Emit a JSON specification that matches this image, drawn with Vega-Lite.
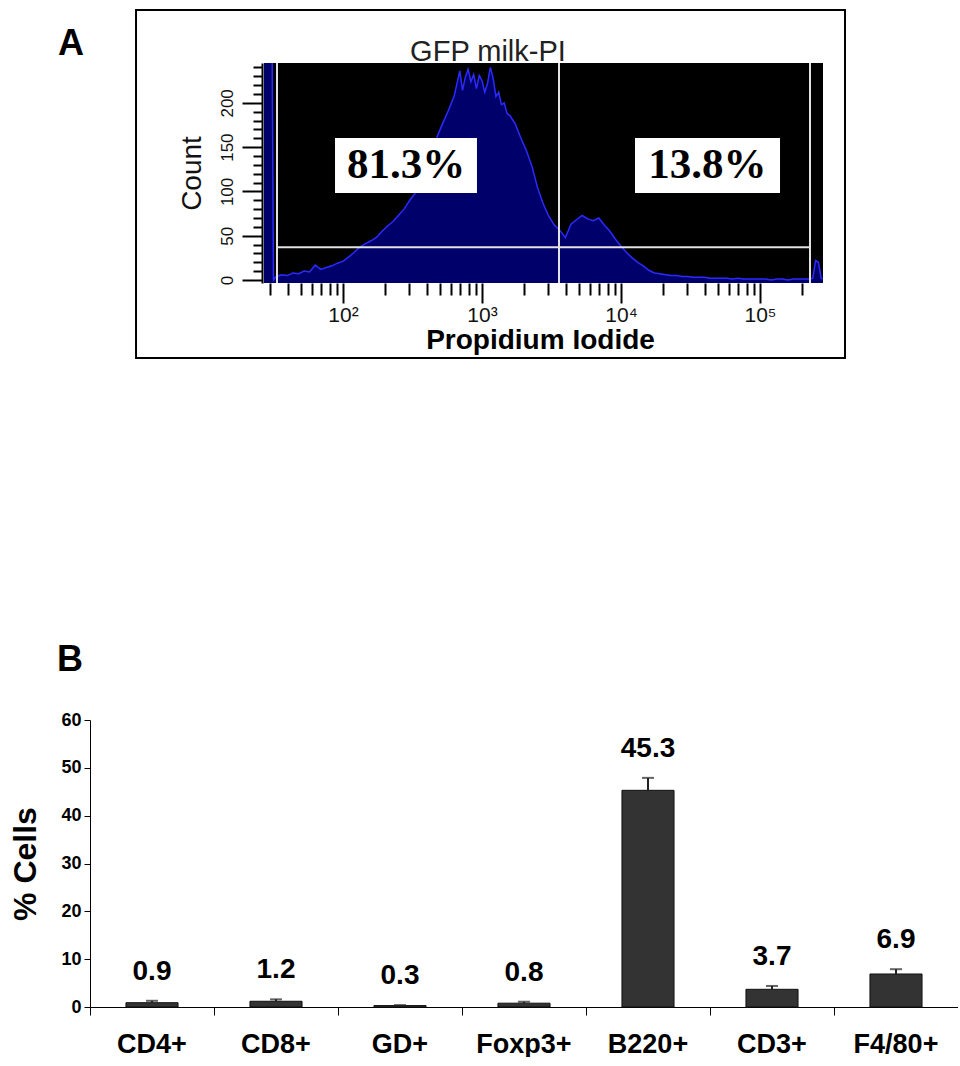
{
  "$schema": "https://vega.github.io/schema/vega-lite/v6.json",
  "padding": {"left": 9, "top": 9, "right": 0, "bottom": 0},
  "background": "white",
  "spacing": 282,
  "config": {"view": {"stroke": null}, "font": "Liberation Sans", "axis": {"grid": false}},
  "vconcat": [
    {
      "width": 733,
      "height": 220,
      "resolve": {"axis": {"x": "independent", "y": "independent"}},
      "layer": [
        {
          "data": {"values": [{}]},
          "mark": {"type": "rect", "fill": "black"},
          "encoding": {
            "x": {
              "datum": 27, "type": "quantitative", "scale": {"type": "log"},
              "axis": {
                "orient": "bottom",
                "values": [100, 1000, 10000, 100000], "tickCount": 100,
                "labelExpr": "datum.value == 100 ? '10²' : datum.value == 1000 ? '10³' : datum.value == 10000 ? '10⁴' : '10⁵'",
                "tickSize": 20, "tickWidth": 2, "tickColor": "black", "domain": false,
                "labelFontSize": 21, "labelColor": "#111", "labelPadding": 1, "labelFlush": false, "labelOverlap": false, "labelBaseline": "top",
                "title": "Propidium Iodide", "titleFontSize": 28, "titleFontWeight": "bold", "titleColor": "black",
                "titleX": 450, "titleY": 65, "titleBaseline": "alphabetic", "titleAlign": "center"
              }
            },
            "x2": {"datum": 283900},
            "y": {
              "datum": -3.4, "type": "quantitative",
              "axis": {
                "orient": "left",
                "values": [0, 50, 100, 150, 200], "tickCount": 100,
                "offset": -172,
                "tickSize": 20, "tickWidth": 2, "tickColor": "black", "domainColor": "black", "domainWidth": 2,
                "labelAngle": 270, "labelAlign": "center", "labelBaseline": "bottom",
                "labelFontSize": 17, "labelColor": "#111", "labelPadding": 6, "labelOverlap": false,
                "title": "Count", "titleFontSize": 28, "titleFontWeight": "normal", "titleColor": "#111",
                "titleAngle": 270, "titleX": -70, "titleY": 110, "titleBaseline": "middle", "titleAlign": "center"
              }
            },
            "y2": {"datum": 245}
          }
        },
        {
          "data": {"values": [
            {"pi": 27.0, "count": 260}, {"pi": 30.9, "count": 260}, {"pi": 31.6, "count": 0},
            {"pi": 33.1, "count": 4}, {"pi": 36.3, "count": 6}, {"pi": 39.8, "count": 5},
            {"pi": 43.7, "count": 8}, {"pi": 47.9, "count": 7}, {"pi": 52.5, "count": 10},
            {"pi": 57.5, "count": 9}, {"pi": 63.1, "count": 17}, {"pi": 69.2, "count": 12},
            {"pi": 75.9, "count": 14}, {"pi": 83.2, "count": 16}, {"pi": 91.2, "count": 19},
            {"pi": 100, "count": 21}, {"pi": 110, "count": 26}, {"pi": 120, "count": 31},
            {"pi": 132, "count": 37}, {"pi": 145, "count": 41}, {"pi": 158, "count": 44},
            {"pi": 174, "count": 48}, {"pi": 191, "count": 55}, {"pi": 209, "count": 61},
            {"pi": 229, "count": 66}, {"pi": 251, "count": 73}, {"pi": 275, "count": 80},
            {"pi": 302, "count": 90}, {"pi": 331, "count": 98}, {"pi": 363, "count": 110},
            {"pi": 398, "count": 124}, {"pi": 437, "count": 143}, {"pi": 479, "count": 163},
            {"pi": 525, "count": 178}, {"pi": 575, "count": 192}, {"pi": 631, "count": 208},
            {"pi": 661, "count": 222}, {"pi": 692, "count": 236}, {"pi": 724, "count": 214},
            {"pi": 759, "count": 229}, {"pi": 794, "count": 238}, {"pi": 832, "count": 224},
            {"pi": 871, "count": 232}, {"pi": 912, "count": 216}, {"pi": 955, "count": 231},
            {"pi": 1000, "count": 225}, {"pi": 1047, "count": 212}, {"pi": 1096, "count": 222},
            {"pi": 1148, "count": 240}, {"pi": 1202, "count": 228}, {"pi": 1259, "count": 207},
            {"pi": 1318, "count": 212}, {"pi": 1380, "count": 198}, {"pi": 1445, "count": 200},
            {"pi": 1514, "count": 188}, {"pi": 1585, "count": 186}, {"pi": 1738, "count": 176},
            {"pi": 1905, "count": 160}, {"pi": 2089, "count": 146}, {"pi": 2291, "count": 128},
            {"pi": 2512, "count": 104}, {"pi": 2754, "count": 86}, {"pi": 3020, "count": 72},
            {"pi": 3311, "count": 62}, {"pi": 3631, "count": 56}, {"pi": 3981, "count": 48},
            {"pi": 4365, "count": 63}, {"pi": 4786, "count": 68}, {"pi": 5248, "count": 73},
            {"pi": 5754, "count": 69}, {"pi": 6310, "count": 67}, {"pi": 6918, "count": 70},
            {"pi": 7586, "count": 62}, {"pi": 8318, "count": 55}, {"pi": 9120, "count": 46},
            {"pi": 10000, "count": 38}, {"pi": 10960, "count": 31}, {"pi": 12020, "count": 25},
            {"pi": 13180, "count": 20}, {"pi": 14450, "count": 16}, {"pi": 15850, "count": 11},
            {"pi": 17380, "count": 8}, {"pi": 19050, "count": 7}, {"pi": 20890, "count": 6},
            {"pi": 22910, "count": 5}, {"pi": 25120, "count": 5}, {"pi": 27540, "count": 4},
            {"pi": 30200, "count": 4}, {"pi": 33110, "count": 3}, {"pi": 36310, "count": 3},
            {"pi": 39810, "count": 3}, {"pi": 43650, "count": 2}, {"pi": 47860, "count": 2},
            {"pi": 52480, "count": 2}, {"pi": 57540, "count": 2}, {"pi": 63100, "count": 1},
            {"pi": 69180, "count": 2}, {"pi": 75860, "count": 1}, {"pi": 83180, "count": 1},
            {"pi": 91200, "count": 1}, {"pi": 100000, "count": 1}, {"pi": 109600, "count": 1},
            {"pi": 120200, "count": 0}, {"pi": 131800, "count": 1}, {"pi": 144500, "count": 1},
            {"pi": 158500, "count": 0}, {"pi": 173800, "count": 1}, {"pi": 190500, "count": 1},
            {"pi": 208900, "count": 1}, {"pi": 229100, "count": 1}, {"pi": 239900, "count": 2},
            {"pi": 251200, "count": 22}, {"pi": 263000, "count": 20}, {"pi": 275400, "count": 2},
            {"pi": 281800, "count": 1}
          ]},
          "mark": {"type": "area", "fill": "#000099", "clip": true, "line": {"color": "#2b2bff", "strokeWidth": 1.5}},
          "encoding": {
            "x": {
              "field": "pi", "type": "quantitative",
              "scale": {"type": "log", "domain": [1.513, 283900], "nice": false},
              "axis": {
                "orient": "bottom",
                "values": [30,40,50,60,70,80,90,200,300,400,500,600,700,800,900,2000,3000,4000,5000,6000,7000,8000,9000,20000,30000,40000,50000,60000,70000,80000,90000,200000],
                "tickCount": 100, "labels": false, "title": null,
                "tickSize": 12, "tickWidth": 2, "tickColor": "black", "domain": false
              }
            },
            "y": {
              "field": "count", "type": "quantitative",
              "scale": {"domain": [-3.4, 245], "nice": false, "zero": false},
              "axis": {
                "orient": "left",
                "values": [10,20,30,40,60,70,80,90,110,120,130,140,160,170,180,190,210,220,230,240],
                "tickCount": 100, "labels": false, "title": null, "domain": false,
                "offset": -172,
                "tickSize": 9, "tickWidth": 2, "tickColor": "black"
              }
            },
            "y2": {"datum": -3.4}
          }
        },
        {
          "data": {"values": [{"gate": 33.5}, {"gate": 3580}, {"gate": 229000}]},
          "mark": {"type": "rule", "color": "#e2e2e2", "strokeWidth": 2},
          "encoding": {
            "x": {"field": "gate", "type": "quantitative", "scale": {"type": "log"}, "axis": null},
            "y": {"datum": -3.4, "type": "quantitative", "axis": null},
            "y2": {"datum": 245}
          }
        },
        {
          "data": {"values": [{}]},
          "mark": {"type": "rule", "color": "#e2e2e2", "strokeWidth": 2},
          "encoding": {
            "x": {"datum": 33.5, "type": "quantitative", "scale": {"type": "log"}, "axis": null},
            "x2": {"datum": 229000},
            "y": {"datum": 37, "type": "quantitative", "axis": null}
          }
        },
        {
          "data": {"values": [{}]},
          "mark": {"type": "rect", "fill": "white"},
          "encoding": {
            "x": {"datum": 87.6, "type": "quantitative", "scale": {"type": "log"}, "axis": null},
            "x2": {"datum": 920},
            "y": {"datum": 98.2, "type": "quantitative", "axis": null},
            "y2": {"datum": 160.3}
          }
        },
        {
          "data": {"values": [{}]},
          "mark": {"type": "rect", "fill": "white"},
          "encoding": {
            "x": {"datum": 12610, "type": "quantitative", "scale": {"type": "log"}, "axis": null},
            "x2": {"datum": 139300},
            "y": {"datum": 98.2, "type": "quantitative", "axis": null},
            "y2": {"datum": 160.3}
          }
        },
        {
          "data": {"values": [{}]},
          "mark": {"type": "text", "text": "81.3%", "font": "Liberation Serif", "fontWeight": "bold", "fontSize": 43, "color": "black", "align": "center", "baseline": "middle"},
          "encoding": {
            "x": {"datum": 284, "type": "quantitative", "scale": {"type": "log"}, "axis": null},
            "y": {"datum": 129.3, "type": "quantitative", "axis": null}
          }
        },
        {
          "data": {"values": [{}]},
          "mark": {"type": "text", "text": "13.8%", "font": "Liberation Serif", "fontWeight": "bold", "fontSize": 43, "color": "black", "align": "center", "baseline": "middle"},
          "encoding": {
            "x": {"datum": 41900, "type": "quantitative", "scale": {"type": "log"}, "axis": null},
            "y": {"datum": 129.3, "type": "quantitative", "axis": null}
          }
        },
        {
          "data": {"values": [{}]},
          "mark": {"type": "rect", "fill": null, "fillOpacity": 0, "stroke": "black", "strokeWidth": 2},
          "encoding": {
            "x": {"datum": 3.243, "type": "quantitative", "scale": {"type": "log"}, "axis": null},
            "x2": {"datum": 408800},
            "y": {"datum": -88.1, "type": "quantitative", "axis": null},
            "y2": {"datum": 304.8}
          }
        },
        {
          "data": {"values": [{}]},
          "mark": {"type": "text", "text": "GFP milk-PI", "fontSize": 29, "color": "#222", "align": "center", "baseline": "alphabetic"},
          "encoding": {
            "x": {"datum": 1104, "type": "quantitative", "scale": {"type": "log"}, "axis": null},
            "y": {"datum": 247.3, "type": "quantitative", "axis": null}
          }
        },
        {
          "data": {"values": [{}]},
          "mark": {"type": "text", "text": "A", "fontSize": 36, "fontWeight": "bold", "color": "black", "align": "center", "baseline": "middle"},
          "encoding": {
            "x": {"datum": 1.104, "type": "quantitative", "scale": {"type": "log"}, "axis": null},
            "y": {"datum": 267, "type": "quantitative", "axis": null}
          }
        }
      ]
    },
    {
      "width": 868,
      "height": 287,
      "title": {"text": "B", "anchor": "start", "frame": "group", "dx": -33, "offset": 32, "fontSize": 36, "fontWeight": "bold", "color": "black"},
      "data": {"values": [
        {"cell": "CD4+", "pct": 0.9, "upper": 1.3},
        {"cell": "CD8+", "pct": 1.2, "upper": 1.6},
        {"cell": "GD+", "pct": 0.3, "upper": 0.4},
        {"cell": "Foxp3+", "pct": 0.8, "upper": 1.1},
        {"cell": "B220+", "pct": 45.3, "upper": 47.9},
        {"cell": "CD3+", "pct": 3.7, "upper": 4.4},
        {"cell": "F4/80+", "pct": 6.9, "upper": 7.9}
      ]},
      "encoding": {
        "x": {
          "field": "cell", "type": "nominal", "sort": null,
          "scale": {"paddingInner": 0, "paddingOuter": 0},
          "axis": {
            "title": null, "labelAngle": 0, "labelFontSize": 27, "labelFontWeight": "bold", "labelColor": "black",
            "tickSize": 8, "tickColor": "black", "domainColor": "black", "bandPosition": 0,
            "labelPadding": 16, "labelBaseline": "top"
          }
        }
      },
      "layer": [
        {
          "mark": {"type": "bar", "fill": "#333333", "stroke": "#111111", "strokeWidth": 1, "width": {"band": 0.42}},
          "encoding": {
            "y": {
              "field": "pct", "type": "quantitative",
              "scale": {"domain": [0, 60], "nice": false},
              "axis": {
                "values": [0, 10, 20, 30, 40, 50, 60], "tickCount": 100, "format": "d", "tickSize": 6, "tickColor": "black", "domainColor": "black",
                "labelFontSize": 18, "labelFontWeight": "bold", "labelColor": "black", "labelPadding": 3,
                "title": "% Cells", "titleFontSize": 32, "titleFontWeight": "bold", "titleColor": "black",
                "titleAngle": 270, "titleX": -65, "titleY": 143.5, "titleBaseline": "middle", "titleAlign": "center"
              }
            }
          }
        },
        {
          "mark": {"type": "rule", "strokeWidth": 2, "color": "#222222"},
          "encoding": {
            "y": {"field": "pct", "type": "quantitative"},
            "y2": {"field": "upper"}
          }
        },
        {
          "mark": {"type": "tick", "size": 12, "thickness": 2, "color": "#222222", "orient": "horizontal"},
          "encoding": {
            "y": {"field": "upper", "type": "quantitative"}
          }
        },
        {
          "mark": {"type": "text", "dy": -21, "baseline": "alphabetic", "fontSize": 28, "fontWeight": "bold", "color": "black"},
          "encoding": {
            "y": {"field": "upper", "type": "quantitative"},
            "text": {"field": "pct", "type": "quantitative", "format": ".1f"}
          }
        }
      ]
    }
  ]
}
